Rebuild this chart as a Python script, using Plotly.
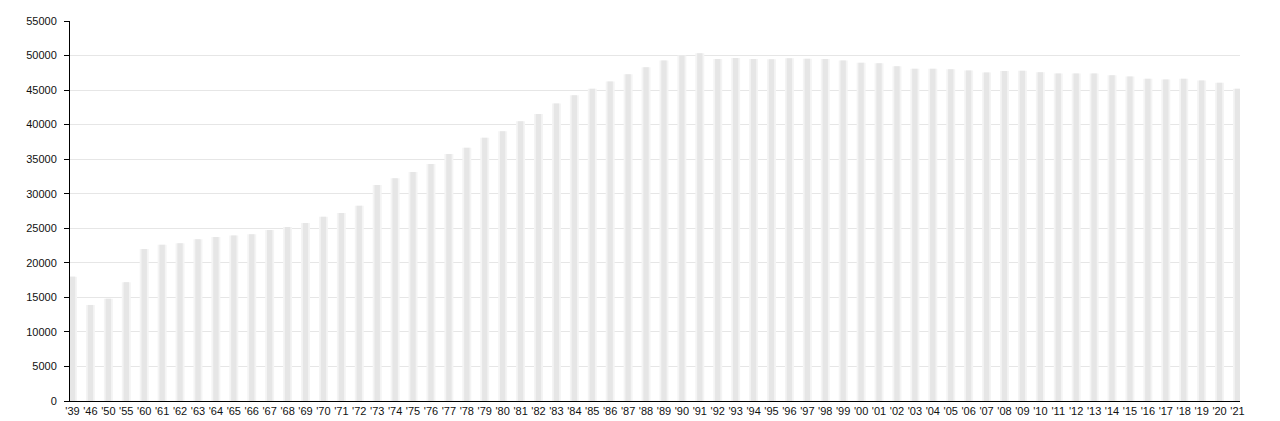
import plotly.graph_objects as go

years = ["'39", "'46", "'50", "'55"] + ["'%02d" % (y % 100) for y in range(1960, 2022)]
population = [
    18000, 13900, 14800, 17200,
    22000, 22600, 22850, 23400, 23750, 23950, 24150, 24750, 25200, 25750,
    26650, 27200, 28250, 31250, 32250, 33150, 34300, 35750, 36650, 38100,
    39050, 40500, 41550, 43050, 44250, 45200, 46250, 47300, 48300, 49300,
    50000, 50350, 49500, 49650, 49500, 49450, 49600, 49550, 49500, 49300,
    48950, 48900, 48450, 48100, 48100, 48000, 47850, 47550, 47750, 47800,
    47600, 47400, 47400, 47400, 47150, 46950, 46650, 46550, 46650, 46400,
    46050, 45200,
]
y_ticks = list(range(0, 55001, 5000))

x_idx = list(range(len(years)))

fig = go.Figure()
fig.add_trace(go.Bar(x=x_idx, y=population, width=0.5,
                     marker=dict(color="#f4f4f4", line=dict(width=0)),
                     hoverinfo="skip", showlegend=False))
fig.add_trace(go.Bar(x=x_idx, y=population, width=0.3,
                     marker=dict(color="#e6e6e6", line=dict(width=0)),
                     showlegend=False))

fig.update_layout(
    template="none",
    width=1280, height=421,
    margin=dict(l=70, r=40, t=21, b=20, autoexpand=False),
    paper_bgcolor="white", plot_bgcolor="white",
    barmode="overlay",
    font=dict(family="Liberation Sans, Arial", size=11, color="#111"),
    xaxis=dict(
        automargin=False,
        range=[-0.14, 65.14],
        tickmode="array", tickvals=x_idx, ticktext=years,
        tickangle=0,
        showline=True, linecolor="black", linewidth=1,
        showgrid=False, ticks="", ticklen=0,
        zeroline=False,
        tickfont=dict(size=11),
    ),
    yaxis=dict(
        automargin=False,
        range=[0, 55000],
        tickmode="array", tickvals=y_ticks, ticktext=[str(v) for v in y_ticks],
        showline=True, linecolor="black", linewidth=1,
        showgrid=True, gridcolor="#e6e6e6", gridwidth=1,
        ticks="outside", ticklen=5, tickcolor="black",
        ticklabelstandoff=5,
        zeroline=False,
        tickfont=dict(size=11),
    ),
)

fig.write_html(
    "out.html",
    config={"displayModeBar": False},
    post_script="document.body.style.margin='0';document.body.style.overflow='hidden';",
)
